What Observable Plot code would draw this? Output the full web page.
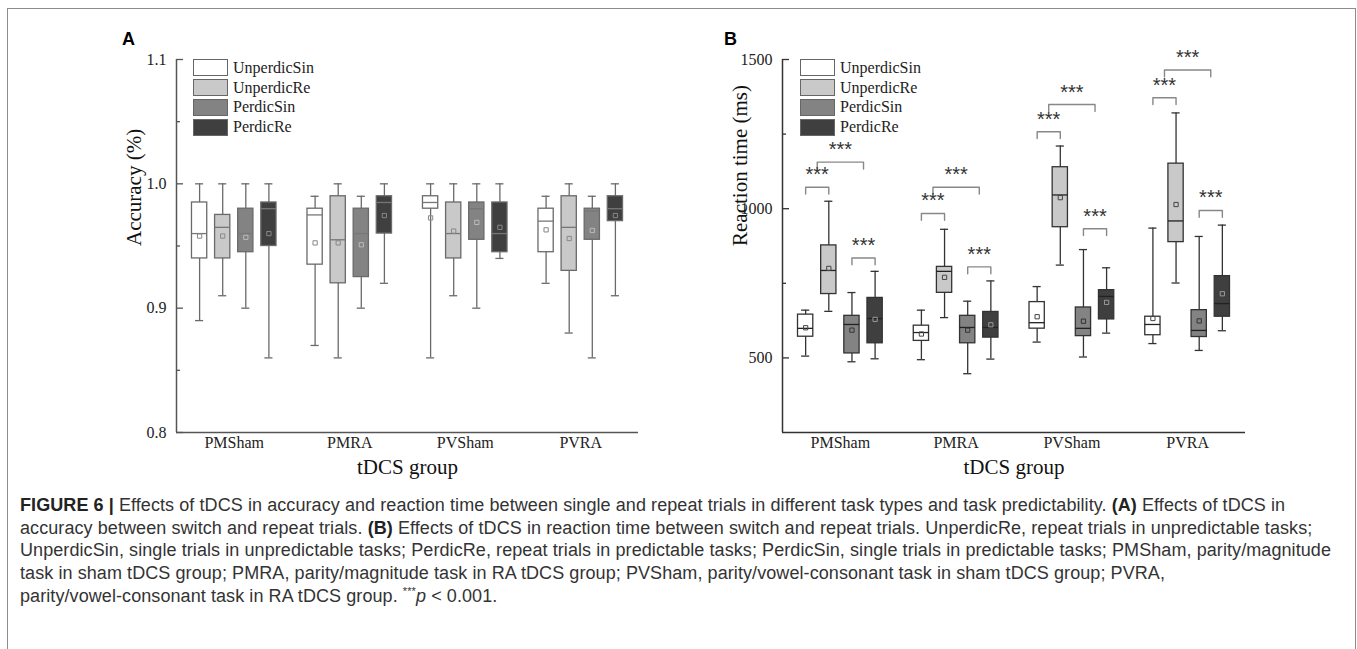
<!DOCTYPE html>
<html><head><meta charset="utf-8">
<script src="https://cdn.jsdelivr.net/npm/d3@7"></script>
<script src="https://cdn.jsdelivr.net/npm/@observablehq/plot@0.6"></script>
<style>
body{margin:0;background:#fff;}
#fig{position:relative;width:1357px;height:649px;overflow:hidden;background:#fff;}
.border{position:absolute;left:7px;top:8px;width:1349px;height:700px;border:1.5px solid #8c8c8c;border-bottom:none;box-sizing:border-box;}
.panel{position:absolute;top:20px;}
.letter{position:absolute;font:bold 18px "Liberation Sans",Arial,sans-serif;color:#000;line-height:1;}
.legend{position:absolute;font:16px "Liberation Serif","Times New Roman",serif;color:#222;}
.legend .row{display:flex;align-items:center;height:19.8px;}
.legend .sw{width:35px;height:17px;border:1.3px solid #666;margin-right:5px;box-sizing:border-box;}
.caption{position:absolute;left:20px;top:494px;font:18px "Liberation Sans",Arial,sans-serif;letter-spacing:0.08px;color:#333;line-height:22.7px;white-space:nowrap;}
.caption b{color:#222;}
.caption sup{font-size:11px;line-height:0;}
</style></head>
<body>
<div id="fig">
  <div class="border"></div>
  <div class="letter" style="left:122px;top:30px;">A</div>
  <div class="letter" style="left:724px;top:30px;">B</div>
  <div class="panel" id="pa" style="left:100px;"></div>
  <div class="panel" id="pb" style="left:700px;"></div>
  <div class="legend" id="lega" style="left:193px;top:58px;"></div>
  <div class="legend" id="legb" style="left:800px;top:58px;"></div>
  <div class="caption">
    <b>FIGURE 6 |</b> Effects of tDCS in accuracy and reaction time between single and repeat trials in different task types and task predictability. <b>(A)</b> Effects of tDCS in<br>
    accuracy between switch and repeat trials. <b>(B)</b> Effects of tDCS in reaction time between switch and repeat trials. UnperdicRe, repeat trials in unpredictable tasks;<br>
    UnperdicSin, single trials in unpredictable tasks; PerdicRe, repeat trials in predictable tasks; PerdicSin, single trials in predictable tasks; PMSham, parity/magnitude<br>
    task in sham tDCS group; PMRA, parity/magnitude task in RA tDCS group; PVSham, parity/vowel-consonant task in sham tDCS group; PVRA,<br>
    parity/vowel-consonant task in RA tDCS group. <sup>***</sup><i>p</i> &lt; 0.001.
  </div>
</div>
<script>
// ---- categories ----
const groups = ["PMSham", "PMRA", "PVSham", "PVRA"];
const series = ["UnperdicSin", "UnperdicRe", "PerdicSin", "PerdicRe"];
const seriesColors = ["#ffffff", "#c9c9c9", "#838383", "#3f3f3f"];

// ---- Panel A: accuracy (order: group-major, series-minor) ----
const accMin  = [0.89, 0.91, 0.90, 0.86,  0.87, 0.86, 0.90, 0.92,  0.86, 0.91, 0.90, 0.94,  0.92, 0.88, 0.86, 0.91];
const accQ1   = [0.94, 0.94, 0.945, 0.95, 0.935, 0.92, 0.925, 0.96, 0.98, 0.94, 0.955, 0.945, 0.945, 0.93, 0.955, 0.97];
const accMed  = [0.96, 0.965, 0.96, 0.98, 0.975, 0.955, 0.96, 0.985, 0.985, 0.96, 0.98, 0.96, 0.97, 0.965, 0.978, 0.98];
const accQ3   = [0.985, 0.975, 0.98, 0.985, 0.98, 0.99, 0.98, 0.99, 0.99, 0.985, 0.985, 0.985, 0.98, 0.99, 0.98, 0.99];
const accMax  = [1.0, 1.0, 1.0, 1.0,  0.99, 1.0, 0.99, 1.0,  1.0, 1.0, 1.0, 1.0,  0.99, 1.0, 0.99, 1.0];
const accMean = [0.958, 0.958, 0.957, 0.96, 0.9525, 0.9525, 0.951, 0.9745, 0.9726, 0.962, 0.969, 0.965, 0.963, 0.956, 0.9625, 0.9745];
const accMajorTicks = [0.8, 0.9, 1.0, 1.1];
const accMinorTicks = [0.85, 0.95, 1.05];

// ---- Panel B: reaction time (ms) ----
const rtMin  = [506, 656, 487, 497,  494, 635, 447, 496,  553, 811, 503, 583,  548, 751, 525, 591];
const rtQ1   = [571, 714, 515, 549,  557, 718, 549, 568,  598, 938, 573, 629,  576, 888, 570, 638];
const rtMed  = [599, 793, 612, 632,  585, 790, 602, 602,  618, 1046, 599, 706, 612, 959, 592, 682];
const rtQ3   = [645, 877, 641, 701,  608, 805, 641, 654,  687, 1139, 669, 727, 638, 1151, 660, 774];
const rtMax  = [660, 1025, 719, 790, 660, 931, 690, 758,  739, 1210, 863, 802, 935, 1321, 907, 945];
const rtMean = [601, 800, 593, 629,  580, 770, 593, 611,  638, 1037, 623, 686, 632, 1014, 624, 715];
const rtMajorTicks = [500, 1000, 1500];
const rtMinorTicks = [750, 1250];

// significance brackets: group, from series pos, to series pos, height (ms)
const brGroup = ["PMSham","PMSham","PMSham", "PMRA","PMRA","PMRA", "PVSham","PVSham","PVSham", "PVRA","PVRA","PVRA"];
const brFrom  = [0, 0.5, 2,  0, 0.5, 2,  0, 0.5, 2,  0, 0.5, 2];
const brTo    = [1, 2.5, 3,  1, 2.5, 3,  1, 2.5, 3,  1, 2.5, 3];
const brY     = [1072, 1156, 835,  984, 1072, 805,  1258, 1349, 933,  1372, 1465, 994];
const brLabel = "***";

// layout constants (in group units: one group = 1)
const STEP = 0.2, BOX_HW = 0.066, CAP_HW = 0.035;
const xOf = (gi, si) => gi + 0.5 + (si - 1.5) * STEP;

function rows(mins, q1s, meds, q3s, maxs, means) {
  const out = [];
  groups.forEach((g, gi) => series.forEach((s, si) => {
    const k = gi * 4 + si;
    out.push({g, s, gi, si, x: xOf(gi, si), min: mins[k], q1: q1s[k], med: meds[k], q3: q3s[k], max: maxs[k], mean: means[k]});
  }));
  return out;
}

function panel({data, yDomain, major, minor, fmt, ylabel, ml, mr, axisStroke, stroke, medStroke, meanStroke, extra = []}) {
  const W = 560, H = 470, mt = 39, mb = 58;
  const frameW = W - ml - mr;
  return Plot.plot({
    width: W, height: H,
    marginLeft: ml, marginRight: mr, marginTop: mt, marginBottom: mb,
    style: {fontFamily: '"Liberation Serif","Times New Roman",serif', fontSize: "16px", color: "#222", background: "transparent"},
    x: {domain: [0, 4], axis: null},
    y: {domain: yDomain, axis: null},
    marks: [
      Plot.ruleX(data, {x: "x", y1: "min", y2: "max", stroke, strokeWidth: 1.3}),
      Plot.ruleY(data, {y: "max", x1: d => d.x - CAP_HW, x2: d => d.x + CAP_HW, stroke, strokeWidth: 1.3}),
      Plot.ruleY(data, {y: "min", x1: d => d.x - CAP_HW, x2: d => d.x + CAP_HW, stroke, strokeWidth: 1.3}),
      Plot.rect(data, {x1: d => d.x - BOX_HW, x2: d => d.x + BOX_HW, y1: "q1", y2: "q3", fill: d => seriesColors[d.si], stroke, strokeWidth: 1.3}),
      Plot.ruleY(data, {y: "med", x1: d => d.x - BOX_HW, x2: d => d.x + BOX_HW, stroke: medStroke, strokeWidth: 1.3}),
      Plot.dot(data, {x: "x", y: "mean", symbol: "square", r: 2.4, stroke: d => meanStroke[d.si], fill: "none", strokeWidth: 1}),
      ...extra,
      // axes
      Plot.ruleX([0], {stroke: axisStroke, strokeWidth: 1.5}),
      Plot.ruleY([yDomain[0]], {stroke: axisStroke, strokeWidth: 1.5}),
      Plot.ruleY(major, {insetRight: frameW - 7, stroke: axisStroke, strokeWidth: 1.3}),
      Plot.ruleY(minor, {insetRight: frameW - 4, stroke: axisStroke, strokeWidth: 1.3}),
      Plot.axisY(major, {tickSize: 0, tickPadding: 10, tickFormat: fmt, label: null, fontSize: 16}),
      Plot.axisX([0.5, 1.5, 2.5, 3.5], {tickSize: 0, tickPadding: 4, tickFormat: v => groups[Math.floor(v)], label: null, fontSize: 16}),
      Plot.text([ylabel], {frameAnchor: "left", rotate: -90, dx: -42, fontSize: 21, fill: "#111"}),
      Plot.text(["tDCS group"], {frameAnchor: "bottom", dy: 41, fontSize: 21, fill: "#111"})
    ]
  });
}

const dataA = rows(accMin, accQ1, accMed, accQ3, accMax, accMean);
document.getElementById("pa").append(panel({
  data: dataA, yDomain: [0.8, 1.1], major: accMajorTicks, minor: accMinorTicks,
  fmt: d3.format(".1f"), ylabel: "Accuracy (%)", ml: 76, mr: 22,
  axisStroke: "#555", stroke: "#6a6a6a", medStroke: "#777", meanStroke: ["#888", "#888", "#bbb", "#888"]
}));

const dataB = rows(rtMin, rtQ1, rtMed, rtQ3, rtMax, rtMean);
const brackets = brGroup.map((g, i) => {
  const gi = groups.indexOf(g);
  return {id: i, x1: xOf(gi, brFrom[i]), x2: xOf(gi, brTo[i]), y: brY[i]};
});
const LEG = 23;
const brPts = brackets.flatMap(b => [
  {id: b.id, x: b.x1, y: b.y - LEG}, {id: b.id, x: b.x1, y: b.y},
  {id: b.id, x: b.x2, y: b.y}, {id: b.id, x: b.x2, y: b.y - LEG}
]);
document.getElementById("pb").append(panel({
  data: dataB, yDomain: [250, 1500], major: rtMajorTicks, minor: rtMinorTicks,
  fmt: d3.format("d"), ylabel: "Reaction time (ms)", ml: 82, mr: 15,
  axisStroke: "#333", stroke: "#333", medStroke: "#222", meanStroke: ["#444", "#444", "#333", "#999"],
  extra: [
    Plot.line(brPts, {x: "x", y: "y", z: "id", stroke: "#888", strokeWidth: 1.4}),
    Plot.text(brackets, {x: b => (b.x1 + b.x2) / 2, y: "y", text: () => brLabel, dy: -6, lineAnchor: "bottom", fontSize: 20, fill: "#333", fontFamily: '"Liberation Sans",Arial,sans-serif', letterSpacing: "1px"})
  ]
}));

function legend(id) {
  const el = document.getElementById(id);
  series.forEach((s, i) => {
    const r = document.createElement("div"); r.className = "row";
    const sw = document.createElement("div"); sw.className = "sw"; sw.style.background = seriesColors[i];
    const t = document.createElement("span"); t.textContent = s;
    r.append(sw, t); el.append(r);
  });
}
legend("lega"); legend("legb");
</script>
</body></html>
